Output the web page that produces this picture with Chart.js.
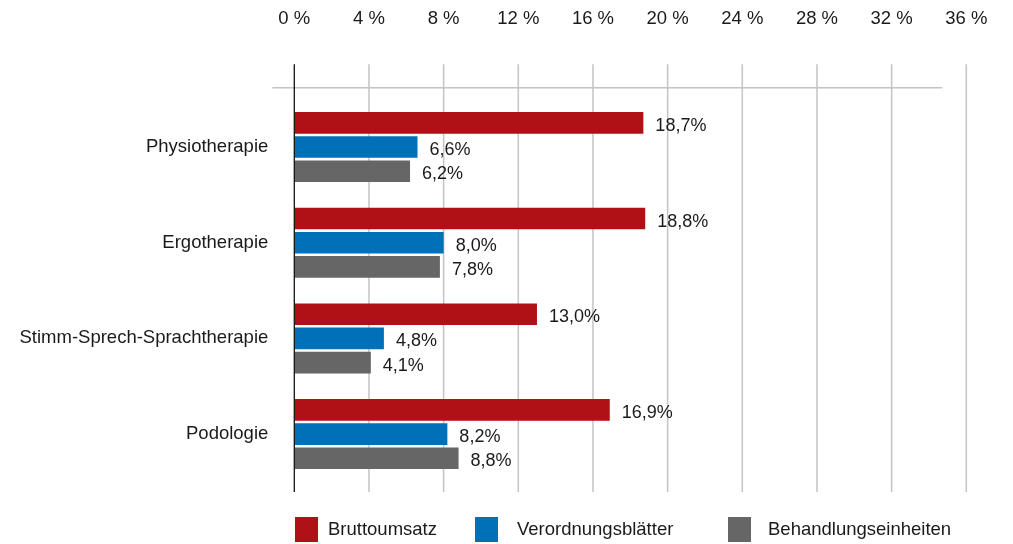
<!DOCTYPE html>
<html lang="de">
<head>
  <meta charset="UTF-8" />
  <title>Heilmittel - Veränderung</title>
  <style>
    body {
      margin: 0;
      background: #fff;
      font-family: 'Liberation Sans', Arial, sans-serif;
    }

    #wrap {
      position: relative;
      width: 1013px;
      height: 544px;
    }

    #legende .box {
      position: absolute;
      top: 517px;
      width: 23px;
      height: 25px;
    }

    #legende .text {
      position: absolute;
      top: 516px;
      height: 25px;
      line-height: 25px;
      font-size: 18.5px;
      color: #1a1a1a;
      white-space: nowrap;
    }
  </style>
</head>
<body>
  <div id="wrap">
    <canvas id="chart" width="1013" height="544"></canvas>
    <div id="legende"></div>
  </div>

  <script src="https://cdn.jsdelivr.net/npm/chart.js"></script>
  <script>
    // Daten
    const kategorien = ['Physiotherapie', 'Ergotherapie', 'Stimm-Sprech-Sprachtherapie', 'Podologie'];
    const bruttoumsatz = [18.7, 18.8, 13.0, 16.9];
    const verordnungsblaetter = [6.6, 8.0, 4.8, 8.2];
    const behandlungseinheiten = [6.2, 7.8, 4.1, 8.8];
    const serien = ['Bruttoumsatz', 'Verordnungsblätter', 'Behandlungseinheiten'];
    const xTicks = [0, 4, 8, 12, 16, 20, 24, 28, 32, 36];

    const farben = ['#b01116', '#0070b9', '#666666'];
    const schrift = "'Liberation Sans', Arial, sans-serif";
    // Legende: x von Kästchen und Text
    const legendePos = [[295, 328], [475, 517], [728, 768]];

    const fmt = v => v.toFixed(1).replace('.', ',') + '%';

    // Gitter, Linie oben, Nulllinie und Achsenbeschriftung oben
    const rasterPlugin = {
      id: 'raster',
      beforeDatasetsDraw(chart) {
        const { ctx, chartArea, scales: { x } } = chart;
        const top = chartArea.top - 35;
        const bottom = chartArea.bottom + 10;
        ctx.save();
        ctx.strokeStyle = '#c4c4c4';
        ctx.lineWidth = 1.5;
        x.ticks.forEach(t => {
          if (t.value === 0) return;
          const px = x.getPixelForValue(t.value);
          ctx.beginPath();
          ctx.moveTo(px, top);
          ctx.lineTo(px, bottom);
          ctx.stroke();
        });
        const hy = chartArea.top - 11.5;
        ctx.beginPath();
        ctx.moveTo(chartArea.left - 22, hy);
        ctx.lineTo(chartArea.right - 24, hy);
        ctx.stroke();

        // Tick-Beschriftung
        ctx.font = '18.5px ' + schrift;
        ctx.fillStyle = '#1a1a1a';
        ctx.textAlign = 'center';
        ctx.textBaseline = 'middle';
        x.ticks.forEach(t => {
          ctx.fillText(t.value + ' %', x.getPixelForValue(t.value), chartArea.top - 80.7);
        });
        ctx.restore();
      },
      afterDatasetsDraw(chart) {
        const { ctx, chartArea, scales: { x } } = chart;
        ctx.save();
        // Nulllinie
        const x0 = x.getPixelForValue(0);
        ctx.strokeStyle = '#111';
        ctx.lineWidth = 1.3;
        ctx.beginPath();
        ctx.moveTo(x0, chartArea.top - 35);
        ctx.lineTo(x0, chartArea.bottom + 10);
        ctx.stroke();

        // Werte an den Balken
        ctx.font = '18px ' + schrift;
        ctx.fillStyle = '#1a1a1a';
        ctx.textAlign = 'left';
        ctx.textBaseline = 'middle';
        chart.data.datasets.forEach((ds, i) => {
          chart.getDatasetMeta(i).data.forEach((bar, j) => {
            ctx.fillText(fmt(ds.data[j]), bar.x + 12, bar.y + 3);
          });
        });
        ctx.restore();
      }
    };

    const ctx = document.getElementById('chart').getContext('2d');

    const chart = new Chart(ctx, {
      type: 'bar',
      data: {
        labels: kategorien,
        datasets: [bruttoumsatz, verordnungsblaetter, behandlungseinheiten].map((d, i) => ({
          label: serien[i],
          data: d,
          backgroundColor: farben[i],
          borderWidth: 0,
          categoryPercentage: 0.758,
          barPercentage: 0.896
        }))
      },
      options: {
        indexAxis: 'y',
        responsive: false,
        animation: false,
        layout: {
          padding: { left: 0, right: 46.7, top: 99.2, bottom: 62.1 }
        },
        plugins: {
          legend: { display: false },
          tooltip: { enabled: false }
        },
        scales: {
          x: {
            position: 'top',
            min: 0,
            max: 36,
            afterBuildTicks: scale => {
              scale.ticks = xTicks.map(v => ({ value: v }));
            },
            grid: { display: false, drawTicks: false },
            border: { display: false },
            ticks: { display: false }
          },
          y: {
            grid: { display: false, drawTicks: false },
            border: { display: false },
            afterFit: scale => { scale.width = 294.3; },
            ticks: {
              padding: 26,
              color: '#1a1a1a',
              font: { family: schrift, size: 18.5 }
            }
          }
        }
      },
      plugins: [rasterPlugin]
    });

    // Legende
    const legende = document.getElementById('legende');
    serien.forEach((name, i) => {
      const box = document.createElement('div');
      box.className = 'box';
      box.style.left = legendePos[i][0] + 'px';
      box.style.background = farben[i];
      legende.appendChild(box);

      const text = document.createElement('span');
      text.className = 'text';
      text.style.left = legendePos[i][1] + 'px';
      text.textContent = name;
      legende.appendChild(text);
    });
  </script>
</body>
</html>
